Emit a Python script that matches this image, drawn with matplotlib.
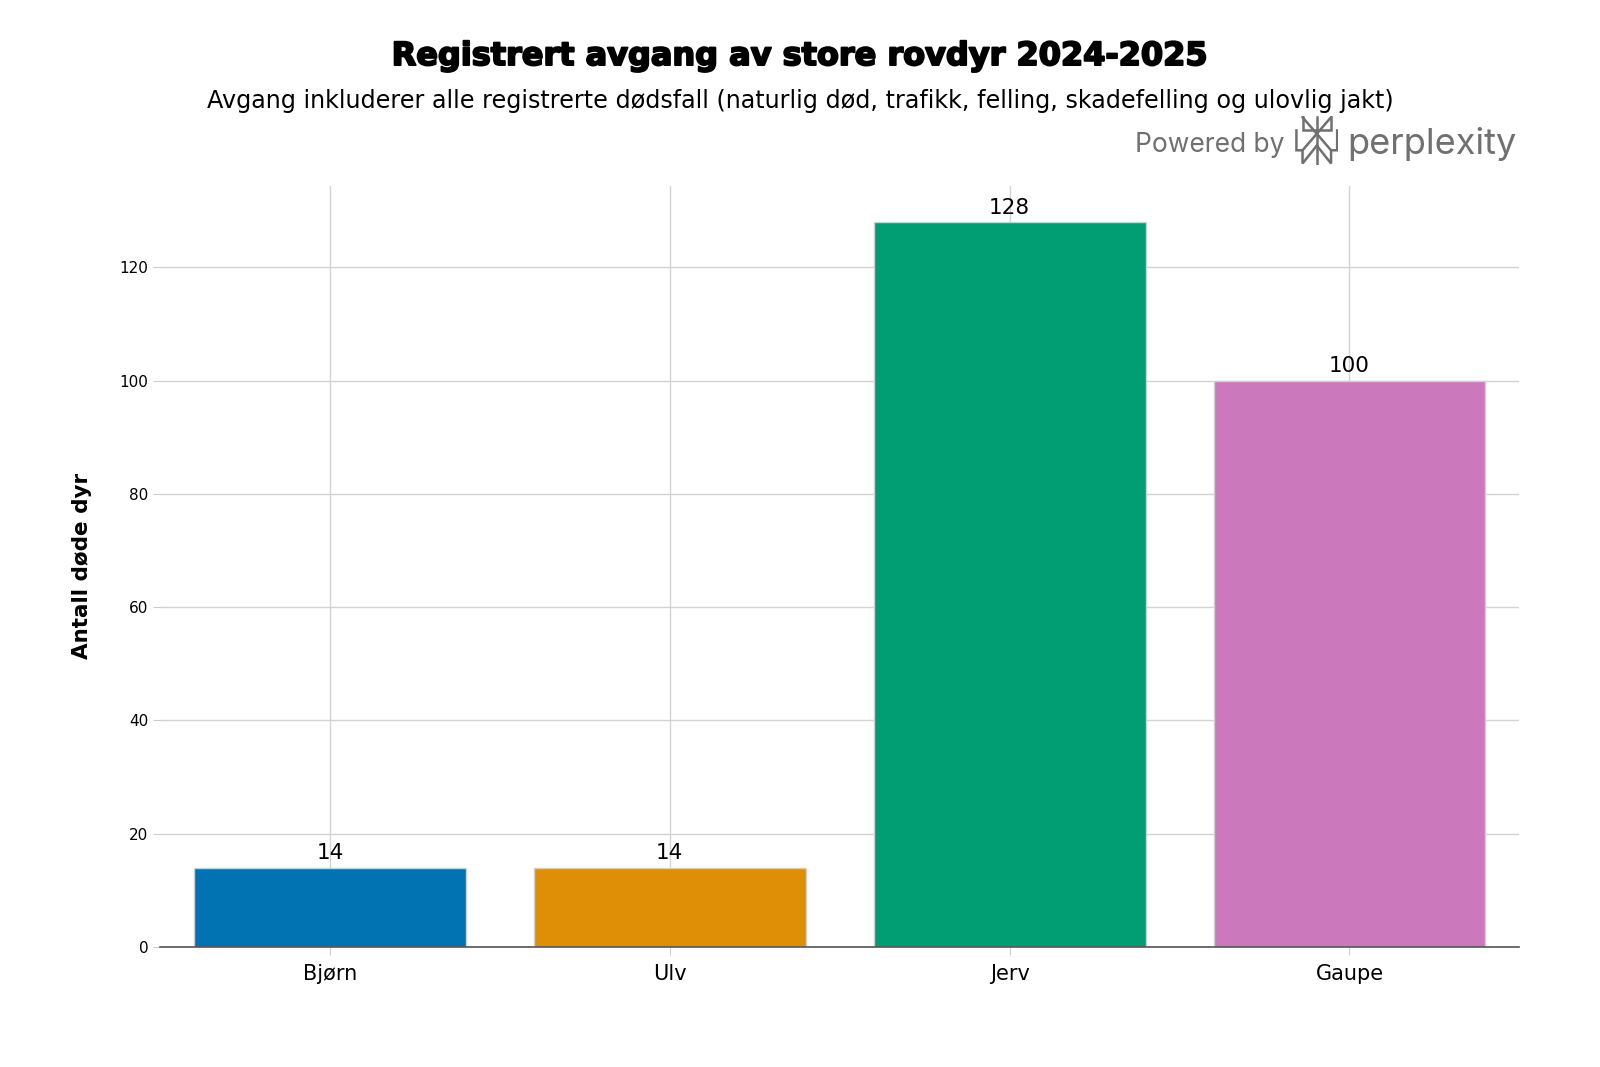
import matplotlib
matplotlib.use('Agg')
import matplotlib.pyplot as plt
import matplotlib.patheffects as pe

# data
arter = ['Bjørn', 'Ulv', 'Jerv', 'Gaupe']
avgang = [14, 14, 128, 100]
farger = ['#0173B2', '#DE8F05', '#029E73', '#CC78BC']

fig = plt.figure(figsize=(16, 10.67), dpi=100)
ax = fig.add_axes([0.100, 0.1125, 0.8496, 0.7135])

bars = ax.bar(arter, avgang, width=0.8, color=farger, edgecolor='#d0d0d0', linewidth=1, zorder=2)
for b, v in zip(bars, avgang):
    ax.annotate(str(v), (b.get_x() + b.get_width() / 2, v), xytext=(0, 3),
                textcoords='offset points', ha='center', va='bottom', fontsize=15.5)

ax.set_xlim(-0.5, 3.5)
ax.set_ylim(0, 134.4)
ax.set_yticks([0, 20, 40, 60, 80, 100, 120])
ax.grid(True, color='#d3d3d3', linewidth=1, zorder=0)
ax.set_axisbelow(True)
for s in ['top', 'right', 'left']:
    ax.spines[s].set_visible(False)
ax.spines['bottom'].set_color('#555555')
ax.spines['bottom'].set_linewidth(1.2)
ax.tick_params(axis='y', labelsize=11, color='#cccccc', length=5)
ax.tick_params(axis='x', labelsize=15, color='#cccccc', length=6, pad=6)
ax.set_ylabel('Antall døde dyr', fontsize=15.5, fontweight='bold', labelpad=20)

fig.text(0.5, 0.947, 'Registrert avgang av store rovdyr 2024-2025', ha='center', va='center',
         fontsize=23, fontweight='heavy',
         path_effects=[pe.withStroke(linewidth=1.4, foreground='black')])
fig.text(0.5, 0.905, 'Avgang inkluderer alle registrerte dødsfall (naturlig død, trafikk, felling, skadefelling og ulovlig jakt)',
         ha='center', va='center', fontsize=17.2)

# perplexity watermark
grå = '#707070'
fig.text(0.803, 0.864, 'Powered by', ha='right', va='center', fontsize=19, color=grå, family='Inter')
fig.text(0.948, 0.865, 'perplexity', ha='right', va='center', fontsize=26, color=grå, family='Inter')
logo = fig.add_axes([0.8095, 0.845, 0.027, 0.046])
logo.axis('off')
logo.set_xlim(-0.03, 1.03)
logo.set_ylim(-0.02, 1.02)
streker = [
    [(0.15, 1.0), (0.15, 0.72), (0.85, 0.72), (0.85, 1.0)],
    [(0.15, 1.0), (0.85, 0.3)],
    [(0.85, 1.0), (0.15, 0.3)],
    [(0.0, 0.72), (0.0, 0.3), (0.15, 0.3), (0.15, 0.02), (0.5, 0.4)],
    [(1.0, 0.72), (1.0, 0.3), (0.85, 0.3), (0.85, 0.02), (0.5, 0.4)],
    [(0.5, 0.0), (0.5, 1.0)],
]
for s in streker:
    xs, ys = zip(*s)
    logo.plot(xs, ys, color=grå, linewidth=1.8, solid_joinstyle='miter')

fig.savefig('out.png', dpi=100)
